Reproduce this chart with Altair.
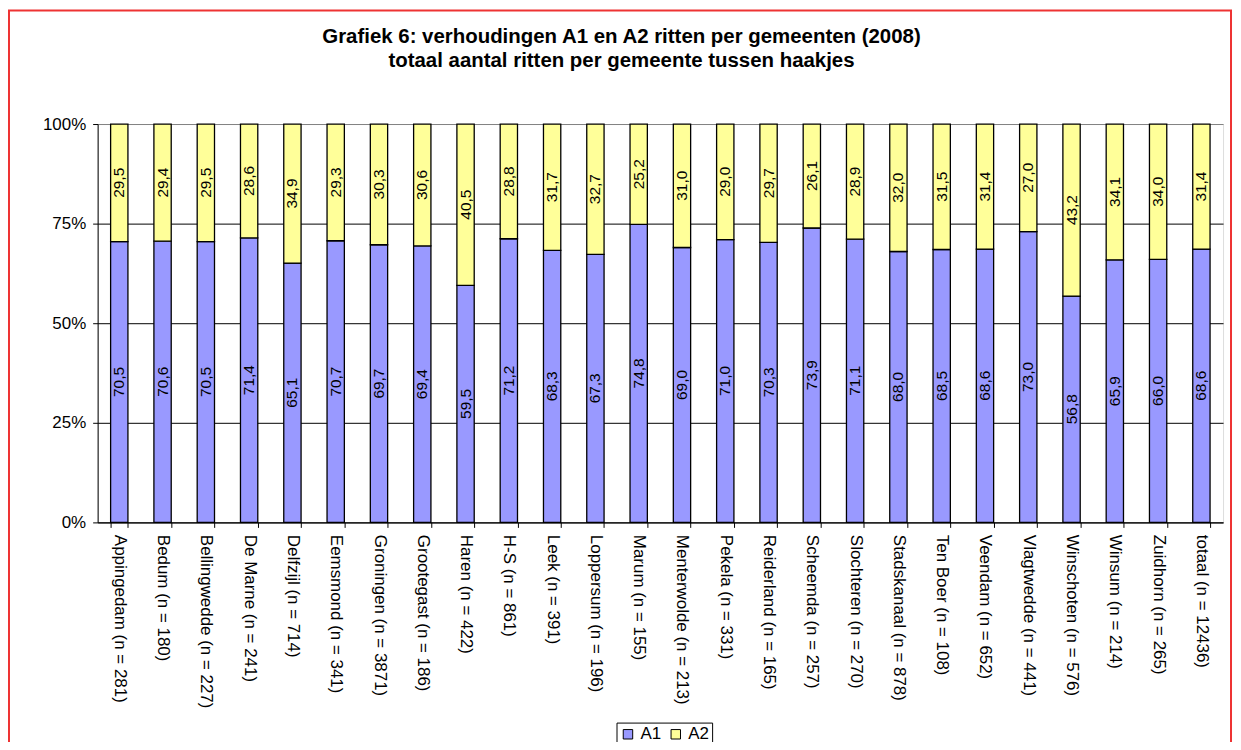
import altair as alt
import pandas as pd

names = ["Appingedam", "Bedum", "Bellingwedde", "De Marne", "Delfzijl", "Eemsmond",
         "Groningen", "Grootegast", "Haren", "H-S", "Leek", "Loppersum", "Marum",
         "Menterwolde", "Pekela", "Reiderland", "Scheemda", "Slochteren", "Stadskanaal",
         "Ten Boer", "Veendam", "Vlagtwedde", "Winschoten", "Winsum", "Zuidhorn", "totaal"]
n_values = [281, 180, 227, 241, 714, 341, 3871, 186, 422, 861, 391, 196, 155, 213, 331,
            165, 257, 270, 878, 108, 652, 441, 576, 214, 265, 12436]
a1 = [70.5, 70.6, 70.5, 71.4, 65.1, 70.7, 69.7, 69.4, 59.5, 71.2, 68.3, 67.3, 74.8,
      69.0, 71.0, 70.3, 73.9, 71.1, 68.0, 68.5, 68.6, 73.0, 56.8, 65.9, 66.0, 68.6]
a2 = [29.5, 29.4, 29.5, 28.6, 34.9, 29.3, 30.3, 30.6, 40.5, 28.8, 31.7, 32.7, 25.2,
      31.0, 29.0, 29.7, 26.1, 28.9, 32.0, 31.5, 31.4, 27.0, 43.2, 34.1, 34.0, 31.4]
series = ["A1", "A2"]
colors = ["#9999FF", "#FFFF99"]
title_lines = ["Grafiek 6: verhoudingen A1 en A2 ritten per gemeenten (2008)",
               "totaal aantal ritten per gemeente tussen haakjes"]

cats = [f"{nm} (n = {n})" for nm, n in zip(names, n_values)]
rows = []
for c, v1, v2 in zip(cats, a1, a2):
    rows.append({"cat": c, "series": "A1", "v": v1, "ord": 0})
    rows.append({"cat": c, "series": "A2", "v": v2, "ord": 1})
df = pd.DataFrame(rows)

FONT = "Liberation Sans"

x_enc = alt.X("cat:N", sort=cats,
              scale=alt.Scale(paddingInner=0.6, paddingOuter=0.3),
              axis=alt.Axis(title=None, labelAngle=90, tickBand="extent", tickSize=5,
                            labelPadding=7, labelFontSize=17, labelLimit=300,
                            labelFont=FONT, labelColor="black", domainColor="black",
                            tickColor="black", grid=False))

base = alt.Chart(df)

bars = base.mark_bar(stroke="black", strokeWidth=1.3).encode(
    x=x_enc,
    y=alt.Y("v:Q", stack="zero", scale=alt.Scale(domain=[0, 100]),
            axis=alt.Axis(title=None, values=[0, 25, 50, 75, 100],
                          labelExpr="datum.value + '%'", tickSize=5, labelPadding=7,
                          labelFontSize=17, labelFont=FONT, labelColor="black",
                          domainColor="black", tickColor="black", grid=True,
                          gridColor={"condition": {"test": "datum.value === 100", "value": "#808080"},
                                     "value": "#000000"},
                          gridWidth=1)),
    color=alt.Color("series:N", scale=alt.Scale(domain=series, range=colors),
                    legend=alt.Legend(orient="none", legendX=521, legendY=601,
                                      direction="horizontal", title=None,
                                      strokeColor="black", fillColor="white", padding=3,
                                      symbolType="square", symbolSize=90,
                                      symbolStrokeColor="black", symbolStrokeWidth=1,
                                      labelFontSize=17, labelFont=FONT, labelColor="black",
                                      columnPadding=6, labelOffset=4)),
    order=alt.Order("ord:Q", sort="ascending"),
)

labels = base.transform_stack(
    stack="v", groupby=["cat"], as_=["y0", "y1"],
    sort=[alt.SortField("ord", order="ascending")]
).transform_calculate(
    mid="(datum.y0 + datum.y1) / 2",
    label="replace(format(datum.v, '.1f'), '.', ',')"
).mark_text(angle=270, fontSize=15.5, font=FONT, color="black").encode(
    x=alt.X("cat:N", sort=cats),
    y=alt.Y("mid:Q"),
    text="label:N",
)

frame = alt.Chart(pd.DataFrame({"k": [0]})).mark_rect(
    fillOpacity=0, stroke="#EE3333", strokeWidth=2
).encode(
    x=alt.value(-89), x2=alt.value(1138), y=alt.value(-114), y2=alt.value(700)
)

chart = alt.layer(bars, labels, frame).properties(
    width=1130, height=400,
    title=alt.TitleParams(text=title_lines, fontSize=20.5, font=FONT, fontWeight="bold",
                          anchor="middle", frame="group", dx=-39, offset=-78,
                          baseline="alphabetic", lineHeight=24, color="black"),
    autosize=alt.AutoSizeParams(type="none"),
    padding={"left": 90, "top": 115, "right": 10, "bottom": 219},
).configure_view(
    fill="#C0C0C0", stroke="#808080", strokeWidth=1
).configure(background="white")

chart.save("out.html", embed_options={"renderer": "svg", "actions": False})
